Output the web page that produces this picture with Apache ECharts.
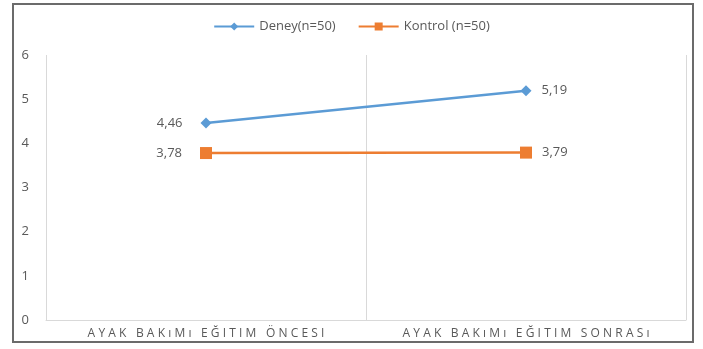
<!DOCTYPE html>
<html>
<head>
<meta charset="utf-8">
<script src="https://cdn.jsdelivr.net/npm/echarts@6/dist/echarts.min.js"></script>
<style>
  html, body { margin: 0; padding: 0; background: #fff; }
  #chart { width: 703px; height: 349px; }
</style>
</head>
<body>
<div id="chart"></div>
<script>
const categories = ['AYAK BAKıMı EĞITIM ÖNCESI', 'AYAK BAKıMı EĞITIM SONRASı'];
const deneyValues = [4.46, 5.19];
const kontrolValues = [3.78, 3.79];
const yTicks = [0, 1, 2, 3, 4, 5, 6];

const textColor = '#595959';
const commaFmt = p => String(p.value).replace('.', ',');

// first point label sits on the left, last point on the right
function withLabels(values) {
  return values.map((v, i) => ({
    value: v,
    label: i === 0
      ? { position: 'left', distance: 18 }
      : { position: 'right', distance: 10 }
  }));
}

const chart = echarts.init(document.getElementById('chart'), null, { renderer: 'canvas' });

const option = {
  animation: false,
  textStyle: { fontFamily: 'Open Sans, Noto Sans, sans-serif' },
  graphic: [{
    type: 'rect',
    shape: { x: 13, y: 4, width: 680, height: 338 },
    style: { fill: 'none', stroke: '#6b6b6b', lineWidth: 2 },
    silent: true
  }],
  legend: {
    top: 15,
    left: 'center',
    itemWidth: 40,
    itemHeight: 10,
    itemGap: 22,
    textStyle: { color: textColor, fontSize: 13 },
    data: ['Deney(n=50)', 'Kontrol (n=50)']
  },
  grid: { left: 46, right: 17, top: 55, bottom: 29 },
  xAxis: {
    type: 'category',
    data: categories,
    boundaryGap: true,
    axisLine: { lineStyle: { color: '#d9d9d9', width: 1 } },
    axisTick: { show: false },
    splitLine: { show: true, interval: 0, lineStyle: { color: '#d9d9d9', width: 1 } },
    axisLabel: {
      interval: 0,
      hideOverlap: false,
      color: textColor,
      fontSize: 12,
      margin: 8,
      formatter: v => v.split('').join('\u2009\u200A')
    }
  },
  yAxis: {
    type: 'value',
    min: yTicks[0],
    max: yTicks[yTicks.length - 1],
    interval: 1,
    axisLine: { show: false },
    axisTick: { show: false },
    splitLine: { show: false },
    axisLabel: { color: textColor, fontSize: 13, margin: 17 }
  },
  series: [
    {
      name: 'Deney(n=50)',
      type: 'line',
      data: withLabels(deneyValues),
      symbol: 'diamond',
      symbolSize: 11,
      color: '#5B9BD5',
      lineStyle: { width: 2.5 },
      label: { show: true, color: textColor, fontSize: 13, formatter: commaFmt }
    },
    {
      name: 'Kontrol (n=50)',
      type: 'line',
      data: withLabels(kontrolValues),
      symbol: 'rect',
      symbolSize: 12,
      color: '#ED7D31',
      lineStyle: { width: 2.5 },
      label: { show: true, color: textColor, fontSize: 13, formatter: commaFmt }
    }
  ]
};

chart.setOption(option);
</script>
</body>
</html>
